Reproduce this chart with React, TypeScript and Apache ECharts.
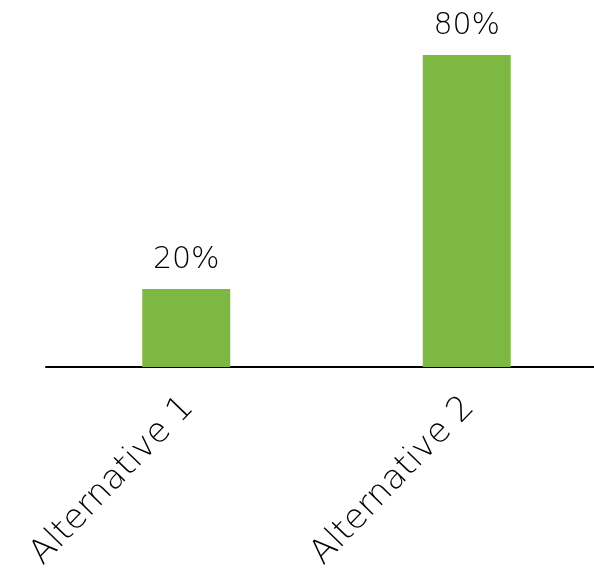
import React, { useEffect, useRef } from "react";
import * as echarts from "echarts";

const categories = ["Alternative 1", "Alternative 2"];
const values = [20, 80];

export default function App() {
  const ref = useRef<HTMLDivElement>(null);
  useEffect(() => {
    if (!ref.current) return;
    const chart = echarts.init(ref.current, null, { renderer: "svg" });
    chart.setOption({
      animation: false,
      grid: { left: 46, width: 561, top: 55, bottom: 210, containLabel: false },
      xAxis: {
        type: "category",
        data: categories,
        axisLine: { lineStyle: { color: "#000", width: 2 } },
        axisTick: { show: false },
        axisLabel: {
          rotate: 46,
          margin: 33,
          fontFamily: "DejaVu Sans",
          fontWeight: 200,
          fontSize: 34,
          color: "#000",
          interval: 0,
        },
      },
      yAxis: { type: "value", min: 0, max: 80, show: false, splitLine: { show: false } },
      series: [
        {
          type: "bar",
          data: values,
          barWidth: 88,
          itemStyle: { color: "#7DB843" },
          label: {
            show: true,
            position: "top",
            distance: 17,
            formatter: "{c}%",
            fontFamily: "DejaVu Sans",
            fontWeight: 200,
            fontSize: 30,
            color: "#000",
          },
        },
      ],
    });
    return () => chart.dispose();
  }, []);
  return (
    <div style={{ position: "fixed", left: 0, top: 0, width: 594, height: 577, overflow: "hidden" }}>
      <div ref={ref} style={{ width: 620, height: 577 }} />
    </div>
  );
}
